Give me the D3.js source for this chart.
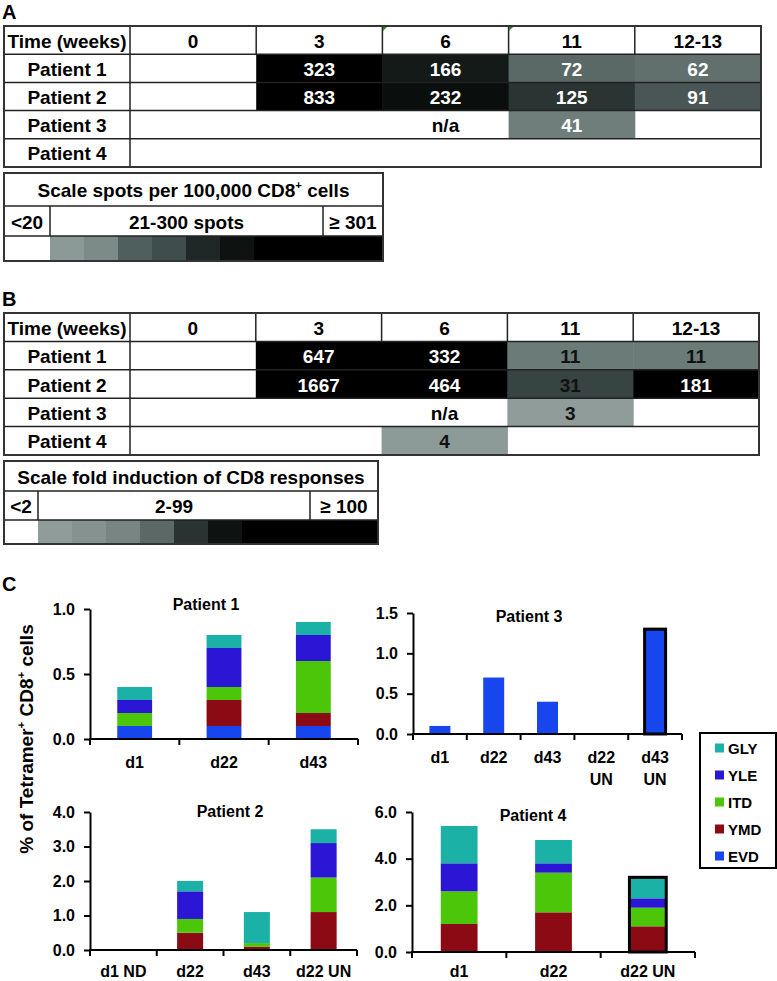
<!DOCTYPE html>
<html><head><meta charset="utf-8">
<script src="https://cdn.jsdelivr.net/npm/d3@7"></script>
<style>
body{margin:0;background:#fff}
svg{display:block}
text{font-family:'Liberation Sans',Arial,sans-serif;font-weight:700;fill:#000}
</style>
</head><body>
<svg id="c" width="777" height="981"></svg>
<script>
// ---------------- DATA ----------------
const timeLabels = ["0", "3", "6", "11", "12-13"];
const patientLabels = ["Patient 1", "Patient 2", "Patient 3", "Patient 4"];
// Panel A: IFN-g spots per 100,000 CD8+ cells (null = below threshold)
const spotsP1 = [null, 323, 166, 72, 62];
const spotsP2 = [null, 833, 232, 125, 91];
const spotsP3 = [null, null, "n/a", 41, null];
const spotsP4 = [null, null, null, null, null];
// Panel B: fold induction of CD8 responses
const foldP1 = [null, 647, 332, 11, 11];
const foldP2 = [null, 1667, 464, 31, 181];
const foldP3 = [null, null, "n/a", 3, null];
const foldP4 = [null, null, 4, null, null];
const scaleTitleA = ["Scale spots per 100,000 CD8", "+", " cells"];
const scaleLabelsA = ["<20", "21-300 spots", "\u2265 301"];
const scaleTitleB = ["Scale fold induction of CD8 responses"];
const scaleLabelsB = ["<2", "2-99", "\u2265 100"];

// Panel C: % of tetramer+ CD8+ cells, stacked by epitope (bottom -> top)
const epitopes = ["EVD", "YMD", "ITD", "YLE", "GLY"];
const p1Days = ["d1", "d22", "d43"];
const p1Values = [[0.1, 0, 0.1, 0.1, 0.1], [0.1, 0.2, 0.1, 0.3, 0.1], [0.1, 0.1, 0.4, 0.2, 0.1]];
const p3Days = ["d1", "d22", "d43", "d22 UN", "d43 UN"];
const p3Values = [[0.1, 0, 0, 0, 0], [0.7, 0, 0, 0, 0], [0.4, 0, 0, 0, 0], [0, 0, 0, 0, 0], [1.3, 0, 0, 0, 0]];
const p2Days = ["d1 ND", "d22", "d43", "d22 UN"];
const p2Values = [[0, 0, 0, 0, 0], [0, 0.5, 0.4, 0.8, 0.3], [0, 0.1, 0.1, 0, 0.9], [0, 1.1, 1.0, 1.0, 0.4]];
const p4Days = ["d1", "d22", "d22 UN"];
const p4Values = [[0, 1.2, 1.4, 1.2, 1.6], [0, 1.7, 1.7, 0.4, 1.0], [0, 1.1, 0.8, 0.4, 0.9]];
const p3Outlined = ["d43 UN"];
const p4Outlined = ["d22 UN"];
const yLabel = ["% of Tetramer", "+", " CD8", "+", " cells"];

// ---------------- STYLE ----------------
const epiColor = d3.scaleOrdinal().domain(epitopes)
  .range(["#1745ee", "#8c0a14", "#4cc608", "#2c16d6", "#1bb1a6"]);
const colorA = v => (typeof v !== "number" || v < 20) ? null :
  d3.scaleLinear().domain([20, 41, 72, 91, 125, 166, 232, 301])
    .range(["#8a9896", "#6f7e7b", "#5a6866", "#4a5655", "#2a3533", "#131a18", "#0a0f0e", "#000"]).clamp(true)(v);
const colorB = v => (typeof v !== "number" || v < 2) ? null :
  d3.scaleLinear().domain([2, 4, 11, 31, 100])
    .range(["#909d9a", "#8d9b98", "#6b7b78", "#374442", "#000"]).clamp(true)(v);
const stripA = ["#8c9a97", "#7d8b88", "#4f5f5d", "#3f4e4c", "#202827", "#0e1211"];
const stripB = ["#8f9c99", "#85928f", "#788582", "#5b6866", "#283332", "#0e1312"];
const LINE = "#222";

const svg = d3.select("#c");

function addText(g, x, y, parts, size, anchor, fill) {
  const t = g.append("text").attr("x", x).attr("y", y).attr("font-size", size)
    .attr("text-anchor", anchor || "middle").style("fill", fill || "#000");
  parts.forEach((p, i) => {
    const sup = (p === "+");
    t.append("tspan").text(p)
      .attr("font-size", sup ? size * 0.6 : size)
      .attr("dy", sup ? -size * 0.4 : (i > 0 && parts[i - 1] === "+" ? size * 0.4 : 0));
  });
  return t;
}

// ---------------- TABLES ----------------
function drawTable(rows, L) {
  const g = svg.append("g");
  const rowY = d3.scaleBand().domain(d3.range(rows.length + 1)).range([L.top, L.bottom]);
  const colX = d3.scaleBand().domain(timeLabels).range([L.split, L.right]);
  const cells = rows.flatMap((r, i) => r.map((v, j) => ({ v, i, j })));
  g.selectAll("rect.cell").data(cells.filter(c => L.color(c.v))).join("rect")
    .attr("x", c => colX(timeLabels[c.j])).attr("y", c => rowY(c.i + 1))
    .attr("width", colX.bandwidth() + 0.5).attr("height", rowY.bandwidth())
    .attr("fill", c => L.color(c.v));
  rowY.domain().slice(1).forEach(i => {
    g.append("line").attr("x1", L.left).attr("x2", L.right).attr("y1", rowY(i)).attr("y2", rowY(i))
      .attr("stroke", LINE).attr("stroke-width", 1.5);
  });
  g.append("line").attr("x1", L.split).attr("x2", L.split).attr("y1", L.top).attr("y2", L.bottom)
    .attr("stroke", LINE).attr("stroke-width", 1.5);
  timeLabels.slice(1).forEach(t => {
    g.append("line").attr("x1", colX(t)).attr("x2", colX(t)).attr("y1", L.top).attr("y2", rowY(1))
      .attr("stroke", LINE).attr("stroke-width", 1.5);
  });
  g.append("rect").attr("x", L.left).attr("y", L.top).attr("width", L.right - L.left)
    .attr("height", L.bottom - L.top).attr("fill", "none").attr("stroke", "#333").attr("stroke-width", 2);
  const base = i => rowY(i) + rowY.bandwidth() / 2 + 7.5;
  addText(g, (L.left + L.split) / 2, base(0), ["Time (weeks)"], 19);
  timeLabels.forEach(t => addText(g, colX(t) + colX.bandwidth() / 2, base(0), [t], 19));
  patientLabels.forEach((p, i) => addText(g, (L.left + L.split) / 2, base(i + 1), [p], 19));
  cells.filter(c => c.v !== null).forEach(c => {
    addText(g, colX(timeLabels[c.j]) + colX.bandwidth() / 2, base(c.i + 1), [String(c.v)], 19,
      "middle", typeof c.v === "number" ? L.textColor(c.v) : "#000");
  });
  return { g, colX };
}

function drawScale(L, title, labels, strip) {
  const g = svg.append("g");
  const blocks = d3.scaleBand().domain(d3.range(strip.length)).range([L.sep1, L.sep1 + strip.length * L.block]);
  g.selectAll("rect.blk").data(strip).join("rect")
    .attr("x", (d, i) => blocks(i)).attr("y", L.r2).attr("width", blocks.bandwidth() + 0.5)
    .attr("height", L.bottom - L.r2).attr("fill", d => d);
  g.append("rect").attr("x", L.sep1 + strip.length * L.block).attr("y", L.r2)
    .attr("width", L.right - L.sep1 - strip.length * L.block).attr("height", L.bottom - L.r2).attr("fill", "#000");
  [L.r1, L.r2].forEach(yy => g.append("line").attr("x1", L.left).attr("x2", L.right).attr("y1", yy).attr("y2", yy)
    .attr("stroke", LINE).attr("stroke-width", 1.5));
  [L.sep1, L.sep2].forEach(xx => g.append("line").attr("x1", xx).attr("x2", xx).attr("y1", L.r1).attr("y2", L.r2)
    .attr("stroke", LINE).attr("stroke-width", 1.5));
  g.append("rect").attr("x", L.left).attr("y", L.top).attr("width", L.right - L.left)
    .attr("height", L.bottom - L.top).attr("fill", "none").attr("stroke", "#333").attr("stroke-width", 2);
  addText(g, (L.left + L.right) / 2, (L.top + L.r1) / 2 + 7.5, title, 19);
  const mids = [(L.left + L.sep1) / 2, (L.sep1 + L.sep2) / 2, (L.sep2 + L.right) / 2];
  labels.forEach((t, i) => addText(g, mids[i], (L.r1 + L.r2) / 2 + 7.5, [t], 19));
}

addText(svg, 2, 19, ["A"], 20, "start");
drawTable([spotsP1, spotsP2, spotsP3, spotsP4],
  { top: 26, bottom: 167, left: 4, split: 130, right: 761, color: colorA, textColor: () => "#fff" });
[[383, 27], [509, 27]].forEach(([px, py]) => svg.append("path")
  .attr("d", `M${px},${py}h4l-4,4z`).attr("fill", "#2a8a2a"));
drawScale({ top: 173, r1: 206, r2: 236, bottom: 261, left: 4, right: 383, sep1: 50, sep2: 323, block: 34 },
  scaleTitleA, scaleLabelsA, stripA);

addText(svg, 2, 306, ["B"], 20, "start");
drawTable([foldP1, foldP2, foldP3, foldP4],
  { top: 313, bottom: 455, left: 4, split: 130, right: 759, color: colorB, textColor: v => v >= 100 ? "#fff" : "#111" });
drawScale({ top: 461, r1: 491, r2: 520, bottom: 544, left: 4, right: 378, sep1: 38, sep2: 310, block: 34 },
  scaleTitleB, scaleLabelsB, stripB);

// ---------------- CHARTS ----------------
addText(svg, 2, 591, ["C"], 20, "start");

function drawChart(o) {
  const g = svg.append("g");
  const x = d3.scaleBand().domain(o.cats).range([o.x0, o.x1]).padding(0);
  const y = d3.scaleLinear().domain([0, o.max]).range([o.yZero, o.yTop]);
  const stacked = d3.stack().keys(d3.range(epitopes.length))(o.values);
  const barW = x.bandwidth() * 0.39;
  stacked.forEach((s, k) => {
    g.selectAll(null).data(s.map((d, i) => ({ d, cat: o.cats[i] })).filter(e => e.d[1] - e.d[0] > 0))
      .join("rect")
      .attr("x", e => x(e.cat) + (x.bandwidth() - barW) / 2).attr("width", barW)
      .attr("y", e => y(e.d[1])).attr("height", e => y(e.d[0]) - y(e.d[1]))
      .attr("fill", epiColor(epitopes[k]));
  });
  const totals = o.values.map(r => d3.sum(r));
  g.selectAll(null).data(o.cats.filter(c => (o.outlined || []).includes(c))).join("rect")
    .attr("x", c => x(c) + (x.bandwidth() - barW) / 2).attr("width", barW)
    .attr("y", c => y(totals[o.cats.indexOf(c)])).attr("height", c => y(0) - y(totals[o.cats.indexOf(c)]))
    .attr("fill", "none").attr("stroke", "#000").attr("stroke-width", 3);
  const ya = g.append("g").attr("transform", `translate(${o.x0},0)`)
    .call(d3.axisLeft(y).tickValues(d3.range(0, o.max + 1e-9, o.step)).tickFormat(d3.format(".1f"))
      .tickSize(6).tickSizeOuter(0).tickPadding(9));
  ya.select(".domain").attr("stroke", "#000").attr("stroke-width", 2);
  ya.selectAll(".tick line").attr("stroke", "#000").attr("stroke-width", 2);
  ya.selectAll(".tick text").attr("font-size", 16).attr("font-family", null).style("font-weight", 700);
  g.append("line").attr("x1", o.x0 - 1).attr("x2", o.x1).attr("y1", o.yZero).attr("y2", o.yZero)
    .attr("stroke", "#000").attr("stroke-width", 2);
  g.selectAll(null).data([...o.cats.map(c => x(c)), o.x1]).join("line")
    .attr("x1", d => d).attr("x2", d => d).attr("y1", o.yZero).attr("y2", o.yZero + 6)
    .attr("stroke", "#000").attr("stroke-width", 2);
  o.cats.forEach(c => {
    const cx = x(c) + x.bandwidth() / 2;
    const parts = o.wrap ? c.split(" ") : [c];
    const t = g.append("text").attr("x", cx).attr("y", o.yZero + o.labelOff).attr("font-size", 16).attr("text-anchor", "middle");
    parts.forEach((p, i) => t.append("tspan").attr("x", cx).attr("dy", i ? 22 : 0).text(p));
  });
  addText(g, o.titleX, o.titleY, [o.title], 16);
}

drawChart({ cats: p1Days, values: p1Values, x0: 90, x1: 358, yZero: 739, yTop: 609, max: 1.0, step: 0.5,
  title: "Patient 1", titleX: 206, titleY: 610, labelOff: 29 });
drawChart({ cats: p3Days, values: p3Values, x0: 413, x1: 682, yZero: 734, yTop: 613, max: 1.5, step: 0.5,
  title: "Patient 3", titleX: 529, titleY: 622, outlined: p3Outlined, wrap: true, labelOff: 29 });
drawChart({ cats: p2Days, values: p2Values, x0: 90, x1: 357, yZero: 950, yTop: 812, max: 4.0, step: 1,
  title: "Patient 2", titleX: 230, titleY: 817, labelOff: 27 });
drawChart({ cats: p4Days, values: p4Values, x0: 412, x1: 695, yZero: 952, yTop: 812, max: 6.0, step: 2,
  title: "Patient 4", titleX: 533, titleY: 821, outlined: p4Outlined, labelOff: 25 });

const yl = svg.append("g").attr("transform", "translate(33,739) rotate(-90)");
addText(yl, 0, 0, yLabel, 19);

const lg = svg.append("g");
lg.append("rect").attr("x", 700).attr("y", 733).attr("width", 76).attr("height", 135)
  .attr("fill", "#fff").attr("stroke", "#000").attr("stroke-width", 2);
const legendOrder = epitopes.slice().reverse();
const ly = d3.scalePoint().domain(legendOrder).range([748, 856]);
lg.selectAll("rect.sw").data(legendOrder).join("rect")
  .attr("x", 715).attr("y", d => ly(d) - 4.5).attr("width", 9).attr("height", 9).attr("fill", d => epiColor(d));
lg.selectAll("text.lt").data(legendOrder).join("text")
  .attr("x", 728).attr("y", d => ly(d) + 5.5).attr("font-size", 15).text(d => d);
</script>
</body></html>
